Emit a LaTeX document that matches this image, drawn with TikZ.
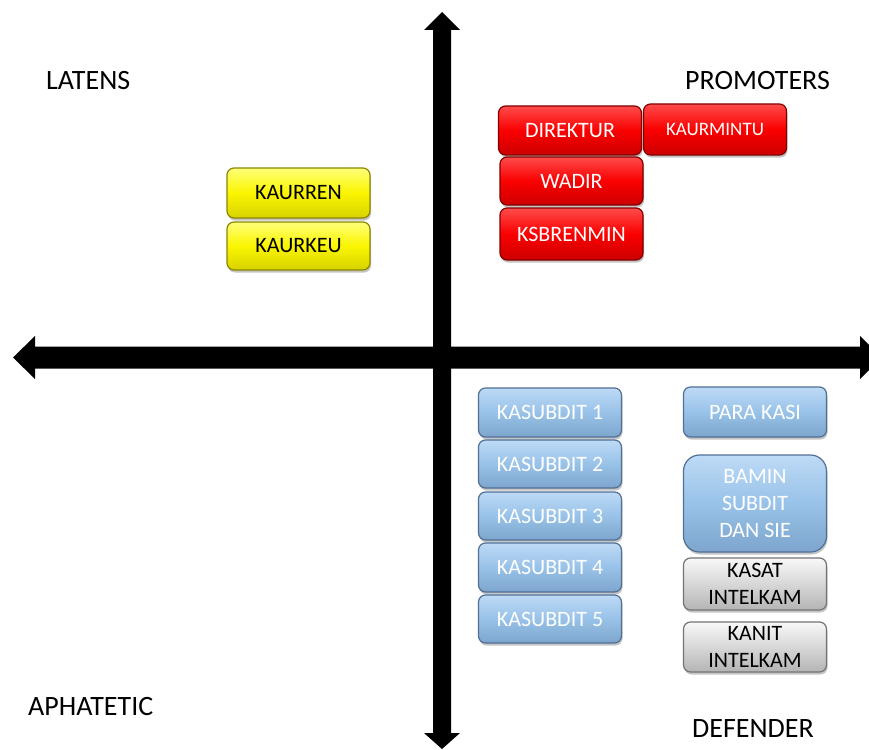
\documentclass[tikz,border=0pt]{standalone}
\usepackage{fontspec}
\setmainfont{Carlito}
\usetikzlibrary{shadows}
\definecolor{rbase}{RGB}{250,0,0}
\definecolor{rtop}{RGB}{255,75,75}
\definecolor{rbot}{RGB}{205,0,0}
\definecolor{rdark}{RGB}{130,0,0}
\definecolor{ybase}{RGB}{250,245,0}
\definecolor{ytop}{RGB}{255,255,120}
\definecolor{ybot}{RGB}{215,210,0}
\definecolor{ydark}{RGB}{140,135,0}
\definecolor{bbase}{RGB}{152,194,232}
\definecolor{btop}{RGB}{190,218,246}
\definecolor{bbot}{RGB}{125,165,205}
\definecolor{bdark}{RGB}{80,112,150}
\definecolor{gbase}{RGB}{215,215,215}
\definecolor{gtop}{RGB}{248,248,248}
\definecolor{gbot}{RGB}{180,180,180}
\definecolor{gdark}{RGB}{115,115,115}
\tikzset{
  box/.style={rectangle, rounded corners=7pt, minimum width=143pt, minimum height=49pt,
    inner sep=0pt, align=center, line width=1.2pt,
    font=\fontsize{22}{27}\selectfont,
    drop shadow={shadow xshift=1pt, shadow yshift=-2.5pt, opacity=0.45}},
  redbox/.style={box, draw=rdark, top color=rtop, bottom color=rbot, middle color=rbase, text=white},
  yellowbox/.style={box, draw=ydark, top color=ytop, bottom color=ybot, middle color=ybase, text=black},
  bluebox/.style={box, draw=bdark, top color=btop, bottom color=bbot, middle color=bbase, text=white},
  graybox/.style={box, draw=gdark, top color=gtop, bottom color=gbot, middle color=gbase, text=black},
  quad/.style={font=\fontsize{28}{32}\selectfont, anchor=base west, inner sep=0pt, text=black},
}
\begin{document}
\begin{tikzpicture}[x=1pt, y=-1pt]
\clip (0,0) rectangle (869,749);
\fill[white] (0,0) rectangle (869,749);
% axes
\fill[black] (433,30) -- (424,30) -- (442,12) -- (460,30) -- (451,30)
  -- (451,733) -- (460,733) -- (442,749) -- (424,733) -- (433,733) -- cycle;
\fill[black] (35,346.5) -- (35,336) -- (13,357.5) -- (35,379) -- (35,368.5)
  -- (860,368.5) -- (860,379) -- (882,357.5) -- (860,336) -- (860,346.5) -- cycle;
% quadrant labels
\node[quad] (latens) at (46,90) {LATENS};
\node[quad] (promoters) at (685,90) {PROMOTERS};
\node[quad] (aphatetic) at (28,715) {APHATETIC};
\node[quad] (defender) at (692,737) {DEFENDER};
% red
\node[redbox] (direktur) at (570,130.5) {DIREKTUR};
\node[redbox, minimum height=51pt, font=\fontsize{19}{23}\selectfont] (kaurmintu) at (715,129.5) {KAURMINTU};
\node[redbox, minimum height=48pt] (wadir) at (571.5,181) {WADIR};
\node[redbox, minimum height=52pt] (ksbrenmin) at (571.5,234) {KSBRENMIN};
% yellow
\node[yellowbox, minimum height=50pt] (kaurren) at (298.5,193) {KAURREN};
\node[yellowbox, minimum height=48pt] (kaurkeu) at (298.5,246) {KAURKEU};
% blue
\node[bluebox] (ks1) at (550,412.5) {KASUBDIT 1};
\node[bluebox, minimum height=48pt] (ks2) at (550,464) {KASUBDIT 2};
\node[bluebox, minimum height=48pt] (ks3) at (550,516) {KASUBDIT 3};
\node[bluebox] (ks4) at (550,567.5) {KASUBDIT 4};
\node[bluebox, minimum height=48pt] (ks5) at (550,619) {KASUBDIT 5};
\node[bluebox, minimum height=50pt] (parakasi) at (755,412) {PARA KASI};
\node[bluebox, minimum height=97pt, rounded corners=16pt] (bamin) at (755,503.5) {BAMIN\\SUBDIT\\DAN SIE};
% gray
\node[graybox, minimum height=52pt] (kasat) at (755,584) {KASAT\\INTELKAM};
\node[graybox, minimum height=50pt] (kanit) at (755,647) {KANIT\\INTELKAM};
\end{tikzpicture}
\end{document}
